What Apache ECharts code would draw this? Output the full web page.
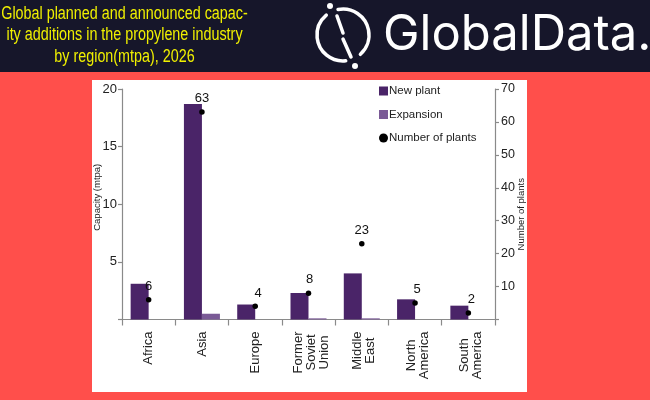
<!DOCTYPE html>
<html><head><meta charset="utf-8">
<style>html,body{margin:0;padding:0;background:#ff4f4b}#c{width:650px;height:400px}</style>
<script src="https://cdn.jsdelivr.net/npm/echarts@6/dist/echarts.min.js"></script>
</head><body><div id="c"></div>
<script>
const titleLines = ["Global planned and announced capac-","ity additions in the propylene industry","by region(mtpa), 2026"];
const categories = ["Africa","Asia","Europe","Former\nSoviet\nUnion","Middle\nEast","North\nAmerica","South\nAmerica"];
const newPlant = [3.1,18.7,1.3,2.3,4.0,1.75,1.2];
const expansion = [0,0.5,0,0.1,0.1,0,0];
const numberOfPlants = [6,63,4,8,23,5,2];
const leftTicks = {min:0,max:20,interval:5};
const rightTicks = {min:0,max:70,interval:10};
const labelNudge = [0,0,3,1,0,2,3];

const axisGrey = "#8a8a8a", textCol = "#222";
const chart = echarts.init(document.getElementById("c"),null,{renderer:"canvas"});
const deg = d => d*Math.PI/180;
const arcStyle = {stroke:"#fff",lineWidth:3.5,fill:null,lineCap:"round"};
const titleY = [14,35.5,57];
chart.setOption({
  animation:false,
  backgroundColor:"#ff4f4b",
  textStyle:{fontFamily:"Liberation Sans"},
  graphic:[
    {type:"rect",z:-10,shape:{x:0,y:0,width:650,height:72},style:{fill:"#16162a"}},
    {type:"rect",z:-10,shape:{x:92,y:80,width:435,height:312},style:{fill:"#fff"}},
    ...titleLines.map((t,i)=>({type:"text",x:124.5,y:titleY[i],scaleX:0.82,
      style:{text:t,fill:"#f0f000",font:"17.5px Liberation Sans",textAlign:"center",textVerticalAlign:"middle"}})),
    {type:"arc",shape:{cx:343,cy:35,r:26,startAngle:deg(-101),endAngle:deg(48),clockwise:true},style:arcStyle},
    {type:"arc",shape:{cx:343,cy:35,r:26,startAngle:deg(84),endAngle:deg(230),clockwise:true},style:arcStyle},
    {type:"line",shape:{x1:337,y1:16,x2:343,y2:33},style:{stroke:"#fff",lineWidth:3.5,lineCap:"round"}},
    {type:"line",shape:{x1:343,y1:39,x2:351,y2:57},style:{stroke:"#fff",lineWidth:3.5,lineCap:"round"}},
    {type:"circle",shape:{cx:330,cy:6,r:3},style:{fill:"#fff"}},
    {type:"circle",shape:{cx:355,cy:66,r:3},style:{fill:"#fff"}},
    {type:"text",x:383,y:35,style:{text:"GlobalData.",fill:"#fff",font:"400 49px Inter",textVerticalAlign:"middle"}}
  ],
  legend:{orient:"vertical",left:374,top:80,itemWidth:9,itemHeight:9,itemGap:11.5,
    textStyle:{color:textCol,fontSize:11.5,padding:[0,0,0,-4]},
    data:[{name:"New plant",icon:"rect"},{name:"Expansion",icon:"rect"},{name:"Number of plants",icon:"circle"}]},
  grid:{left:122,right:155,top:89,bottom:80.5},
  xAxis:{type:"category",data:categories,
    axisLine:{lineStyle:{color:axisGrey,width:1.2}},
    axisTick:{show:true,length:6,alignWithLabel:false,lineStyle:{color:axisGrey,width:1.2}},
    axisLabel:{rotate:90,interval:0,margin:12,
      formatter:v=>{
        const parts=v.split("\n");
        return parts.map((s,i)=>"{"+(i===0&&parts.length>1?"f":"a")+"|"+s+"}").join("\n");
      },
      rich:{
        a:{align:"center",fontSize:13,color:textCol,lineHeight:13},
        f:{align:"center",fontSize:13,color:textCol,lineHeight:18,verticalAlign:"bottom"}
      }}},
  yAxis:[
    {type:"value",...leftTicks,position:"left",name:"Capacity (mtpa)",nameLocation:"middle",nameGap:20,nameMoveOverlap:false,
      nameTextStyle:{fontSize:9.5,color:textCol,padding:[0,0,0,14]},
      splitLine:{show:false},
      axisLine:{show:true,lineStyle:{color:axisGrey,width:1.2}},
      axisTick:{show:true,length:4,lineStyle:{color:axisGrey,width:1.2}},
      axisLabel:{color:textCol,fontSize:13,margin:5,formatter:v=>v===0?"":String(v)}},
    {type:"value",...rightTicks,position:"right",name:"Number of plants",nameLocation:"middle",nameGap:21,nameRotate:90,nameMoveOverlap:false,
      nameTextStyle:{fontSize:9.5,color:textCol,padding:[0,0,0,-20]},
      splitLine:{show:false},
      axisLine:{show:true,lineStyle:{color:axisGrey,width:1.2}},
      axisTick:{show:true,length:4,lineStyle:{color:axisGrey,width:1.2}},
      axisLabel:{color:textCol,fontSize:12.5,margin:6,formatter:v=>v===0?"":String(v)}}
  ],
  series:[
    {name:"New plant",type:"bar",data:newPlant,barWidth:18,barGap:0,itemStyle:{color:"#4a2468"}},
    {name:"Expansion",type:"bar",data:expansion,barWidth:18,barGap:0,itemStyle:{color:"#7a5a96"}},
    {name:"Number of plants",type:"scatter",yAxisIndex:1,symbolSize:5.5,
      data:numberOfPlants.map((v,i)=>({value:v,label:{offset:[labelNudge[i],0]}})),
      itemStyle:{color:"#000",opacity:1},
      label:{show:true,position:"top",distance:4,color:"#111",fontSize:13}}
  ]
});
</script></body></html>
